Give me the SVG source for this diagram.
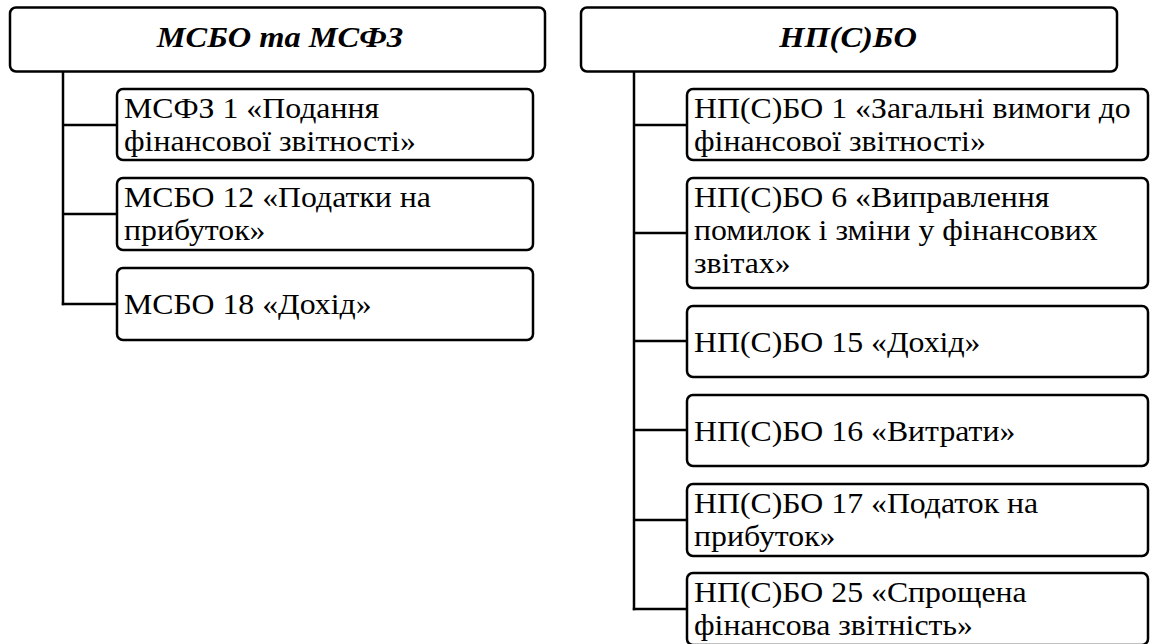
<svg xmlns="http://www.w3.org/2000/svg" width="1152" height="644" viewBox="0 0 1152 644">
<style>
rect.box{fill:#fff;stroke:#000;stroke-width:2.5}
.hdr{font-family:'Liberation Serif','Times New Roman',serif;font-size:30px;font-weight:bold;font-style:italic;text-anchor:middle;fill:#000}
.t{font-family:'Liberation Serif','Times New Roman',serif;font-size:30px;fill:#000}
.conn line{stroke:#000;stroke-width:2.5}
</style>
<rect x="0" y="0" width="1152" height="644" fill="#fff"/>
<g class="conn" id="connectors">
<line x1="63" y1="71" x2="63" y2="305.2"/>
<line x1="63" y1="125" x2="117" y2="125"/>
<line x1="63" y1="214" x2="117" y2="214"/>
<line x1="61.8" y1="304" x2="117" y2="304"/>
<line x1="634" y1="71" x2="634" y2="610.2"/>
<line x1="634" y1="125" x2="687" y2="125"/>
<line x1="634" y1="233" x2="687" y2="233"/>
<line x1="634" y1="341" x2="687" y2="341"/>
<line x1="634" y1="430" x2="687" y2="430"/>
<line x1="634" y1="520" x2="687" y2="520"/>
<line x1="632.8" y1="609" x2="687" y2="609"/>
</g>
<g id="hdr-left"><rect class="box" x="10" y="7.5" width="535" height="64" rx="6"/><text class="hdr" transform="matrix(1.08,0,0,1,280,47)">МСБО та МСФЗ</text></g>
<g id="hdr-right"><rect class="box" x="581" y="7.5" width="536" height="64" rx="6"/><text class="hdr" transform="matrix(1.08,0,0,1,848,47)">НП(С)БО</text></g>
<g id="l1"><rect class="box" x="117" y="89" width="416" height="71" rx="6"/><text class="t" transform="matrix(1.06,0,0,1,124,118)">МСФЗ 1 «Подання</text><text class="t" transform="matrix(1.06,0,0,1,124,151)">фінансової звітності»</text></g>
<g id="l2"><rect class="box" x="117" y="178" width="416" height="72" rx="6"/><text class="t" transform="matrix(1.06,0,0,1,124,207)">МСБО 12 «Податки на</text><text class="t" transform="matrix(1.06,0,0,1,124,240)">прибуток»</text></g>
<g id="l3"><rect class="box" x="117" y="268" width="416" height="72" rx="6"/><text class="t" transform="matrix(1.06,0,0,1,124,313.5)">МСБО 18 «Дохід»</text></g>
<g id="r1"><rect class="box" x="687" y="89" width="461" height="71" rx="6"/><text class="t" transform="matrix(1.06,0,0,1,694,118)">НП(С)БО 1 «Загальні вимоги до</text><text class="t" transform="matrix(1.06,0,0,1,694,151)">фінансової звітності»</text></g>
<g id="r2"><rect class="box" x="687" y="178" width="461" height="110" rx="6"/><text class="t" transform="matrix(1.06,0,0,1,694,207)">НП(С)БО 6 «Виправлення</text><text class="t" transform="matrix(1.06,0,0,1,694,240)">помилок і зміни у фінансових</text><text class="t" transform="matrix(1.06,0,0,1,694,273)">звітах»</text></g>
<g id="r3"><rect class="box" x="687" y="306" width="461" height="71" rx="6"/><text class="t" transform="matrix(1.06,0,0,1,694,351.5)">НП(С)БО 15 «Дохід»</text></g>
<g id="r4"><rect class="box" x="687" y="395" width="461" height="71" rx="6"/><text class="t" transform="matrix(1.06,0,0,1,694,440.5)">НП(С)БО 16 «Витрати»</text></g>
<g id="r5"><rect class="box" x="687" y="484" width="461" height="72" rx="6"/><text class="t" transform="matrix(1.06,0,0,1,694,513)">НП(С)БО 17 «Податок на</text><text class="t" transform="matrix(1.06,0,0,1,694,546)">прибуток»</text></g>
<g id="r6"><rect class="box" x="687" y="573" width="461" height="72" rx="6"/><text class="t" transform="matrix(1.06,0,0,1,694,602)">НП(С)БО 25 «Спрощена</text><text class="t" transform="matrix(1.06,0,0,1,694,635)">фінансова звітність»</text></g>
</svg>
